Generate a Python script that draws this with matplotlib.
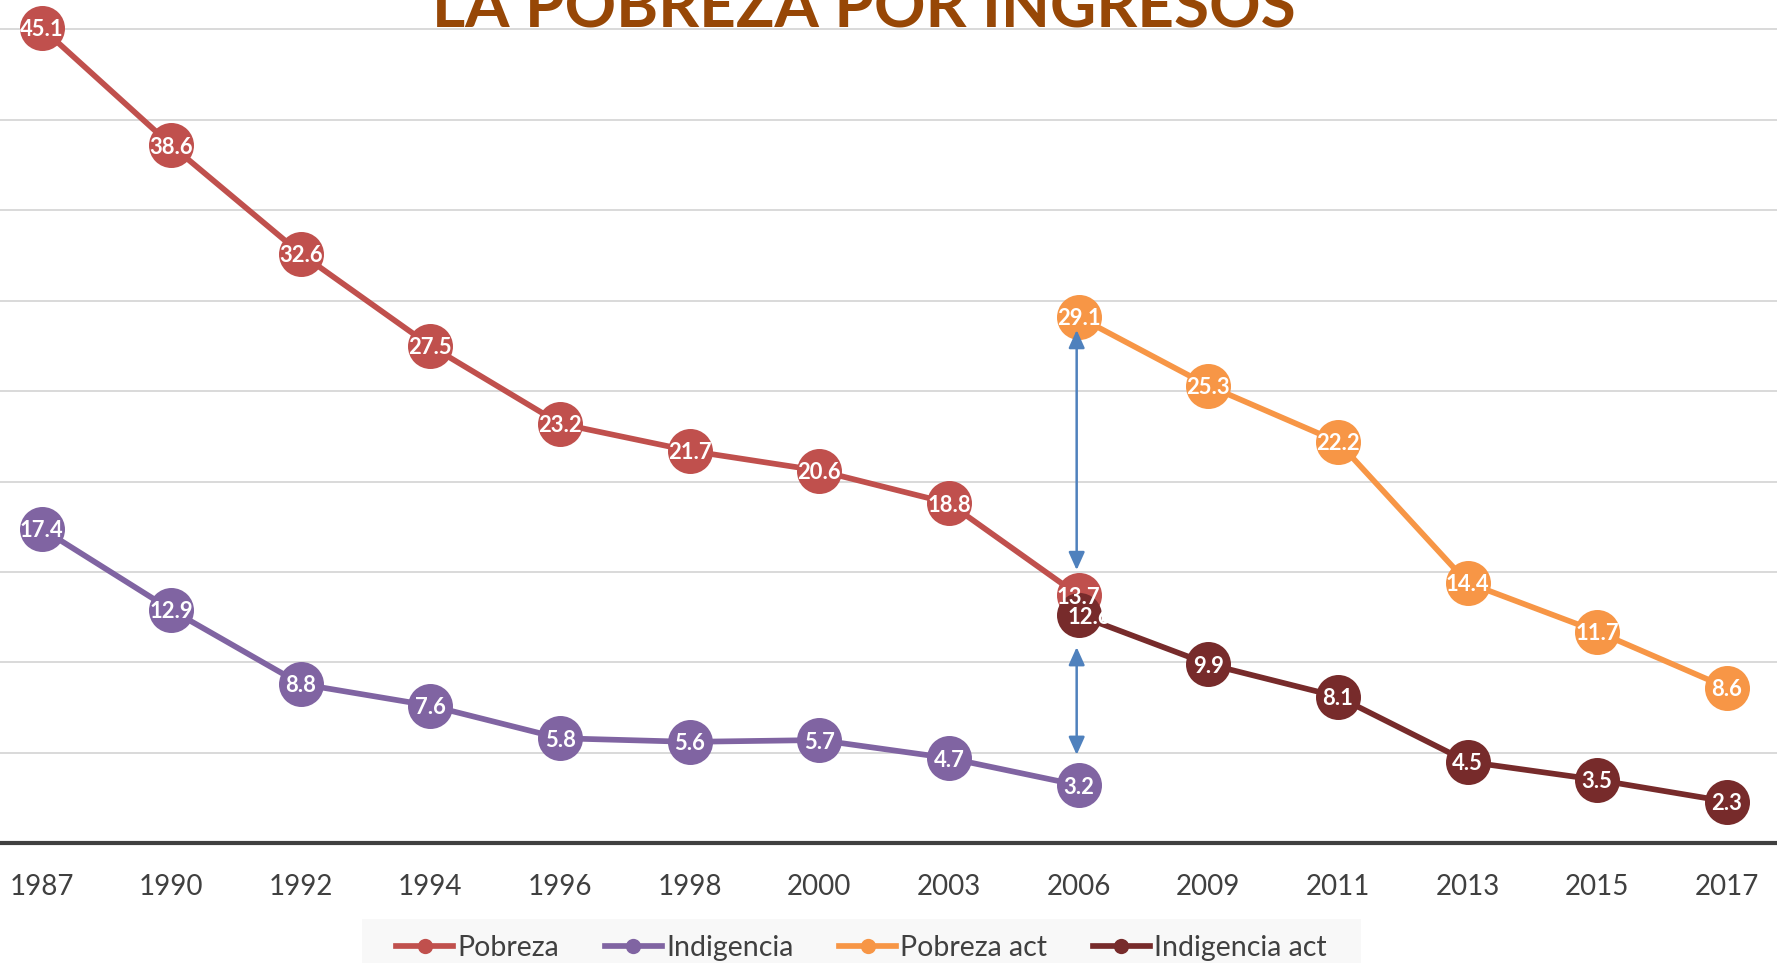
import matplotlib
matplotlib.use("Agg")
import matplotlib.pyplot as plt
from matplotlib.lines import Line2D
from matplotlib.patches import Rectangle
from matplotlib.transforms import Bbox, TransformedBbox

years = ["1987", "1990", "1992", "1994", "1996", "1998", "2000", "2003",
         "2006", "2009", "2011", "2013", "2015", "2017"]
pobreza = [45.1, 38.6, 32.6, 27.5, 23.2, 21.7, 20.6, 18.8, 13.7]
indigencia = [17.4, 12.9, 8.8, 7.6, 5.8, 5.6, 5.7, 4.7, 3.2]
pobreza_act = [29.1, 25.3, 22.2, 14.4, 11.7, 8.6]
indigencia_act = [12.6, 9.9, 8.1, 4.5, 3.5, 2.3]
series_names = ["Pobreza", "Indigencia", "Pobreza act", "Indigencia act"]
title = "LA POBREZA POR INGRESOS"

colors = ["#C0504D", "#8064A2", "#F79646", "#772B2B"]
FONT = "Lato"

W, H = 1777, 963
fig = plt.figure(figsize=(W / 100, H / 100), dpi=100)
fig.patch.set_facecolor("white")

# axes spanning full width (chart is cropped at the sides and top)
x0_px, dx_px = 41.5, 129.64
y0_px, dy_px = 843.1, 18.08
ax = fig.add_axes([0, (H - y0_px) / H, 1, y0_px / H])
ax.set_xlim(-x0_px / dx_px, (W - x0_px) / dx_px)
ax.set_ylim(0, y0_px / dy_px)

for s in ["top", "right", "left"]:
    ax.spines[s].set_visible(False)
ax.spines["bottom"].set_color("#404040")
ax.spines["bottom"].set_linewidth(3)
ax.spines["bottom"].set_zorder(6)

ax.set_yticks(range(5, 50, 5))
ax.tick_params(axis="y", left=False, labelleft=False)
ax.yaxis.grid(True, color="#cfcfcf", linewidth=1.1)
ax.set_axisbelow(True)

ax.set_xticks(range(len(years)))
ax.set_xticklabels(years, fontfamily=FONT, fontsize=20, color="#404040")
ax.tick_params(axis="x", length=0, pad=22.5)

n_old = len(pobreza)
x_old = list(range(n_old))
x_new = list(range(n_old - 1, n_old - 1 + len(pobreza_act)))
data = [(x_old, pobreza), (x_old, indigencia), (x_new, pobreza_act), (x_new, indigencia_act)]

for k, ((xs, ys), c) in enumerate(zip(data, colors)):
    ax.plot(xs, ys, color=c, lw=4.1, marker="o", ms=32.4, mew=0,
            solid_capstyle="round", zorder=2 + k * 0.1)

for k, (xs, ys) in enumerate(data):
    for x, y in zip(xs, ys):
        t = ax.text(x, y, f"{y:.1f}", ha="center", va="center_baseline", color="white",
                    fontfamily=FONT, fontweight="bold", fontsize=15.8, zorder=7)
        if k == 3 and x == n_old - 1:
            # overlapping label partly hidden in the original
            t.set_position((x + 0.08, y))
            t.set_clip_box(TransformedBbox(Bbox([[x - 1, y - 3], [x + 0.135, y + 3]]), ax.transData))

# comparison arrows at the 2006 splice
arrow_x = n_old - 1 - 0.015
arr = dict(arrowstyle="<|-|>,head_length=0.4,head_width=0.18", color="#4F81BD",
           lw=1.8, mutation_scale=27, shrinkA=0, shrinkB=0)
ax.annotate("", xy=(arrow_x, pobreza_act[0] - 0.72), xytext=(arrow_x, pobreza[-1] + 1.4),
            arrowprops=arr, zorder=4)
ax.annotate("", xy=(arrow_x, indigencia_act[0] - 1.76), xytext=(arrow_x, indigencia[-1] + 1.68),
            arrowprops=arr, zorder=4)

# title (cropped at top, as in the original)
fig.text(864 / W, 1 - 27 / H, title, ha="center", va="baseline", fontfamily=FONT,
         fontweight="bold", fontsize=46, color="#974706")

# legend
fig.patches.append(Rectangle((362 / W, 0), 999 / W, 44 / H, transform=fig.transFigure,
                             facecolor="#f8f8f8", edgecolor="none", zorder=0))
handles = [Line2D([], [], color=c, lw=4.1, marker="o", ms=11, mew=0) for c in colors]
leg = fig.legend(handles, series_names, loc="center", bbox_to_anchor=(861.5 / W, 1 - 948 / H),
                 ncol=4, frameon=False, prop={"family": FONT, "size": 20.5},
                 handlelength=2.0, handletextpad=0.15, columnspacing=1.6)
for t in leg.get_texts():
    t.set_color("#404040")

fig.savefig("out.png", dpi=100)
